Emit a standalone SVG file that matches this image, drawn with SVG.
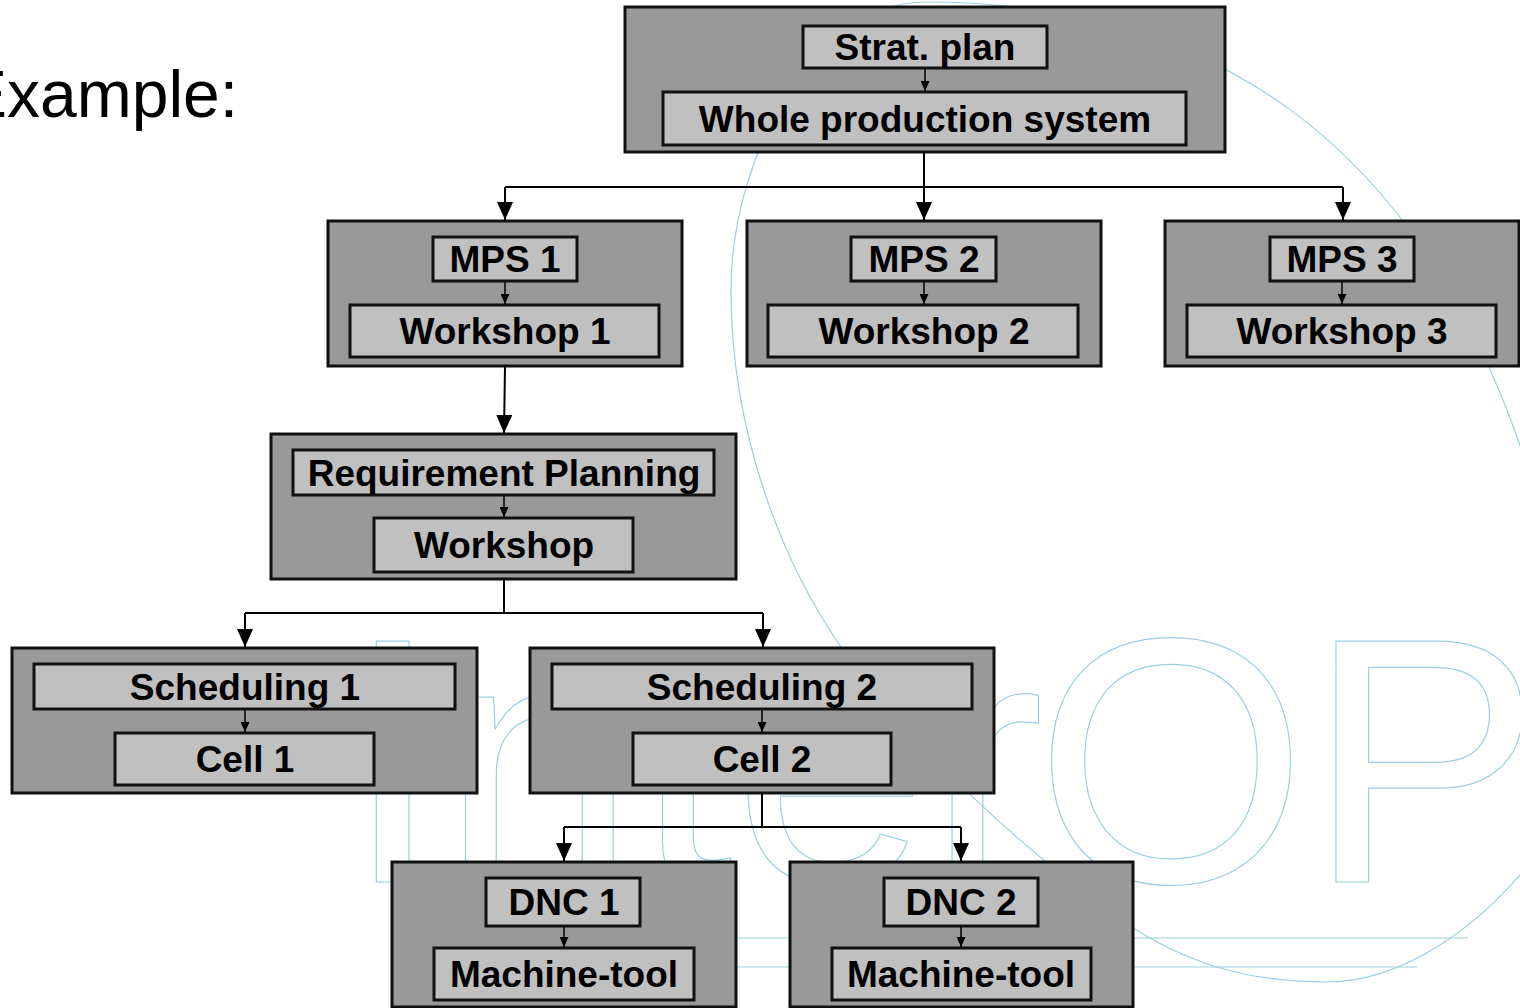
<svg xmlns="http://www.w3.org/2000/svg" width="1520" height="1008" viewBox="0 0 1520 1008">
  <defs>
    <style>
      .outer{fill:#999999;stroke:#111111;stroke-width:3}
      .inner{fill:#c0c0c0;stroke:#111111;stroke-width:3}
      .lbl{font-family:"Liberation Sans",Arial,Helvetica,sans-serif;font-weight:bold;font-size:37px;fill:#000000;text-anchor:middle}
      .wire{fill:none;stroke:#000000;stroke-width:2}
      .step{fill:none;stroke:#000000;stroke-width:1.5}
      .wm{fill:none;stroke:#9ccfe2;stroke-width:1.2}
      .wmtxt{font-family:"Liberation Sans",Arial,Helvetica,sans-serif;font-size:350px;fill:none;stroke:#9ccfe2;stroke-width:1.2}
    </style>
    <marker id="arrow" viewBox="0 0 18 16" refX="18" refY="8" markerWidth="18" markerHeight="16" markerUnits="userSpaceOnUse" orient="auto">
      <path d="M0,0 L18,8 L0,16 z" fill="#000000"/>
    </marker>
    <marker id="tick" viewBox="0 0 10 9" refX="10" refY="4.5" markerWidth="10" markerHeight="9" markerUnits="userSpaceOnUse" orient="auto">
      <path d="M0,0 L10,4.5 L0,9 z" fill="#000000"/>
    </marker>
  </defs>

  <rect x="0" y="0" width="1520" height="1008" fill="#ffffff"/>

  <!-- background logo, outline only -->
  <g id="watermark">
    <path class="wm" d="M1540,850 C1480,930 1400,982 1327,982 C1260,982 1200,970 1133,928 C1020,850 900,735 843,650 C780,560 731,430 731,290 C731,150 820,2 925,2 C1200,2 1420,130 1530,475"/>
    <line class="wm" x1="600" y1="938" x2="1468" y2="938"/>
    <line class="wm" x1="600" y1="967" x2="1417" y2="967"/>
    <text class="wmtxt" x="344" y="882">Inter</text>
    <text class="wmtxt" x="1035" y="882">OP</text>
  </g>

  <text x="-37" y="117" font-family="'Liberation Sans',Arial,Helvetica,sans-serif" font-size="66" fill="#000000">Example:</text>

  <g id="nodes">
    <g id="strategic">
      <rect class="outer" x="625" y="7" width="600" height="145"/>
      <rect class="inner" x="803" y="26" width="244" height="42"/>
      <rect class="inner" x="663" y="92" width="523" height="53"/>
      <text class="lbl" x="925" y="60">Strat. plan</text>
      <text class="lbl" x="925" y="132">Whole production system</text>
    </g>
    <g id="mps1">
      <rect class="outer" x="328" y="221" width="354" height="145"/>
      <rect class="inner" x="433" y="237" width="144" height="44"/>
      <rect class="inner" x="350" y="305" width="309" height="52"/>
      <text class="lbl" x="505" y="272">MPS 1</text>
      <text class="lbl" x="505" y="344">Workshop 1</text>
    </g>
    <g id="mps2">
      <rect class="outer" x="747" y="221" width="354" height="145"/>
      <rect class="inner" x="851" y="237" width="145" height="44"/>
      <rect class="inner" x="768" y="305" width="310" height="52"/>
      <text class="lbl" x="924" y="272">MPS 2</text>
      <text class="lbl" x="924" y="344">Workshop 2</text>
    </g>
    <g id="mps3">
      <rect class="outer" x="1165" y="221" width="354" height="145"/>
      <rect class="inner" x="1270" y="237" width="144" height="44"/>
      <rect class="inner" x="1187" y="305" width="309" height="52"/>
      <text class="lbl" x="1342" y="272">MPS 3</text>
      <text class="lbl" x="1342" y="344">Workshop 3</text>
    </g>
    <g id="requirements">
      <rect class="outer" x="271" y="434" width="465" height="145"/>
      <rect class="inner" x="293" y="450" width="421" height="45"/>
      <rect class="inner" x="374" y="518" width="259" height="54"/>
      <text class="lbl" x="504" y="486">Requirement Planning</text>
      <text class="lbl" x="504" y="558">Workshop</text>
    </g>
    <g id="scheduling1">
      <rect class="outer" x="12" y="648" width="465" height="145"/>
      <rect class="inner" x="34" y="664" width="421" height="45"/>
      <rect class="inner" x="115" y="733" width="259" height="52"/>
      <text class="lbl" x="245" y="700">Scheduling 1</text>
      <text class="lbl" x="245" y="772">Cell 1</text>
    </g>
    <g id="scheduling2">
      <rect class="outer" x="530" y="648" width="464" height="145"/>
      <rect class="inner" x="552" y="664" width="420" height="45"/>
      <rect class="inner" x="633" y="733" width="258" height="52"/>
      <text class="lbl" x="762" y="700">Scheduling 2</text>
      <text class="lbl" x="762" y="772">Cell 2</text>
    </g>
    <g id="dnc1">
      <rect class="outer" x="392" y="862" width="344" height="145"/>
      <rect class="inner" x="486" y="878" width="154" height="48"/>
      <rect class="inner" x="434" y="948" width="260" height="52"/>
      <text class="lbl" x="564" y="915">DNC 1</text>
      <text class="lbl" x="564" y="987">Machine-tool</text>
    </g>
    <g id="dnc2">
      <rect class="outer" x="790" y="862" width="343" height="145"/>
      <rect class="inner" x="884" y="878" width="154" height="48"/>
      <rect class="inner" x="832" y="948" width="259" height="52"/>
      <text class="lbl" x="961" y="915">DNC 2</text>
      <text class="lbl" x="961" y="987">Machine-tool</text>
    </g>
  </g>

  <g id="connectors">
    <!-- strategic level fans out to the three MPS nodes -->
    <path class="wire" d="M924,152 V187 M505,187 H1343"/>
    <path class="wire" d="M505,187 V220" marker-end="url(#arrow)"/>
    <path class="wire" d="M924,187 V220" marker-end="url(#arrow)"/>
    <path class="wire" d="M1343,187 V220" marker-end="url(#arrow)"/>
    <!-- MPS 1 to requirement planning -->
    <path class="wire" d="M505,366 L504,433" marker-end="url(#arrow)"/>
    <!-- requirement planning to the two schedulers -->
    <path class="wire" d="M504,579 V613 M245,613 H763"/>
    <path class="wire" d="M245,613 V647" marker-end="url(#arrow)"/>
    <path class="wire" d="M763,613 V647" marker-end="url(#arrow)"/>
    <!-- scheduling 2 to the two DNC nodes -->
    <path class="wire" d="M762,793 V827 M564,827 H961"/>
    <path class="wire" d="M564,827 V861" marker-end="url(#arrow)"/>
    <path class="wire" d="M961,827 V861" marker-end="url(#arrow)"/>
    <!-- decision to decided system inside each node -->
    <path class="step" d="M925,69 V91" marker-end="url(#tick)"/>
    <path class="step" d="M505,282 V304" marker-end="url(#tick)"/>
    <path class="step" d="M924,282 V304" marker-end="url(#tick)"/>
    <path class="step" d="M1342,282 V304" marker-end="url(#tick)"/>
    <path class="step" d="M504,496 V517" marker-end="url(#tick)"/>
    <path class="step" d="M245,710 V732" marker-end="url(#tick)"/>
    <path class="step" d="M762,710 V732" marker-end="url(#tick)"/>
    <path class="step" d="M564,927 V947" marker-end="url(#tick)"/>
    <path class="step" d="M961,927 V947" marker-end="url(#tick)"/>
  </g>
</svg>
